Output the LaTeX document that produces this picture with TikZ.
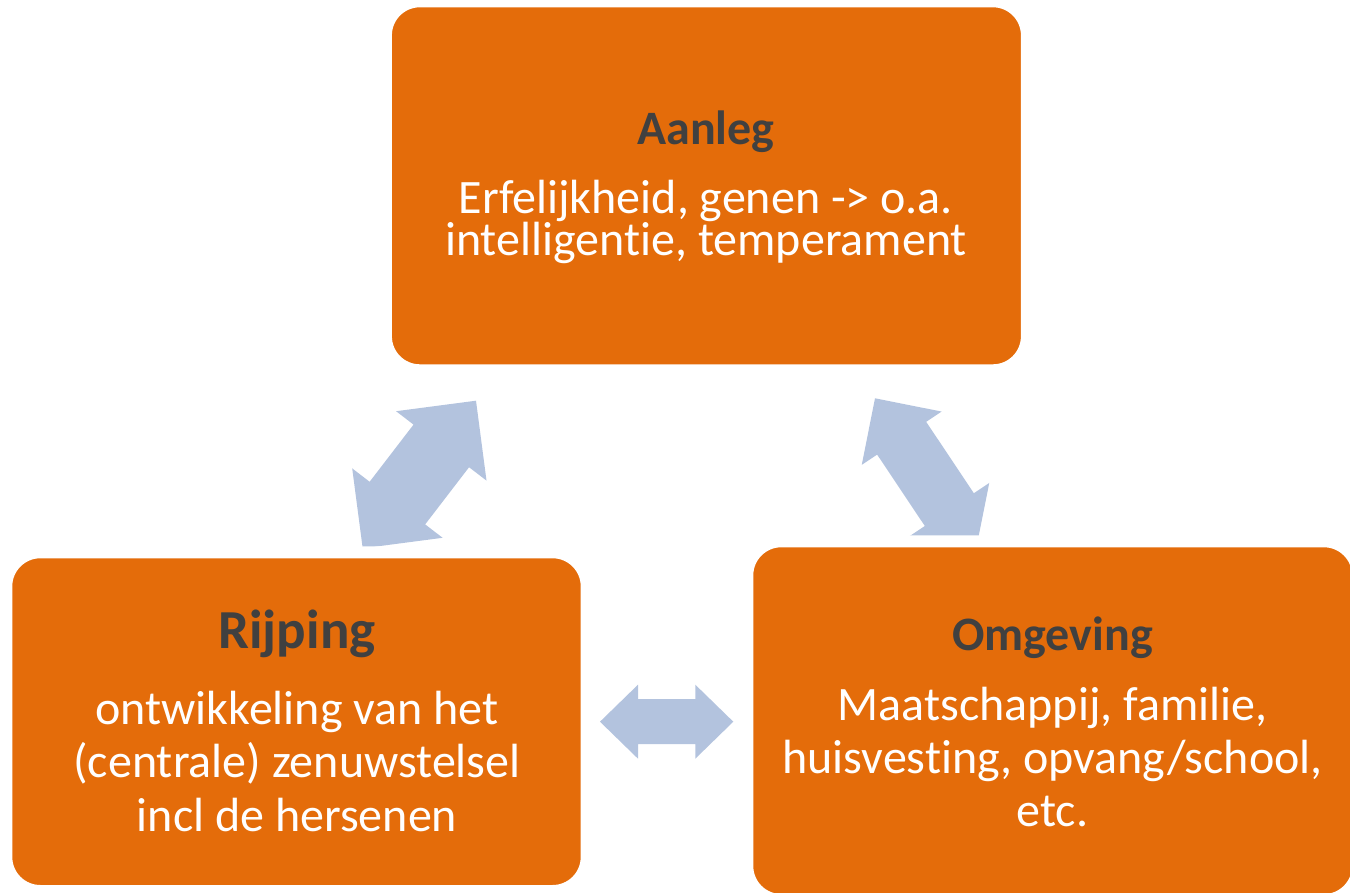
\documentclass[tikz,border=0pt]{standalone}
\usepackage{fontspec}
\setmainfont{Carlito}[Ligatures={NoCommon}]
\usetikzlibrary{calc}
\definecolor{boxorange}{HTML}{E46C0A}
\definecolor{arrowblue}{HTML}{B3C3DE}
\definecolor{titlegray}{HTML}{404040}
\tikzset{
  boxshape/.style={draw=white, line width=12pt, fill=boxorange, rounded corners=34pt, inner sep=0pt},
  titletext/.style={anchor=base, inner sep=0pt, text=titlegray, font=\fontsize{48}{58}\selectfont\bfseries},
  bigtitletext/.style={anchor=base, inner sep=0pt, text=titlegray, font=\fontsize{55}{66}\selectfont\bfseries},
  bodytext/.style={anchor=base, inner sep=0pt, text=white, font=\fontsize{48}{58}\selectfont},
  tightbody/.style={anchor=base, inner sep=0pt, text=white, align=center, font=\fontsize{48}{42}\selectfont},
  blockarrow/.style={fill=arrowblue, draw=none}
}
% #1,#2 tips; #3 wing dist; #4 wing angle; #5 notch dist; #6 notch angle
\newcommand{\dblarrow}[6]{%
  \path[blockarrow] (#1)
    -- ($(#1)!#3!#4:(#2)$) -- ($(#1)!#5!#6:(#2)$)
    -- ($(#2)!#5!-#6:(#1)$) -- ($(#2)!#3!-#4:(#1)$)
    -- (#2)
    -- ($(#2)!#3!#4:(#1)$) -- ($(#2)!#5!#6:(#1)$)
    -- ($(#1)!#5!-#6:(#2)$) -- ($(#1)!#3!-#4:(#2)$)
    -- cycle;}
\begin{document}
\begin{tikzpicture}[x=1pt, y=-1pt]
\useasboundingbox (0,0) rectangle (1350,893);
% arrow tips
\coordinate (laT) at (476,400.7);
\coordinate (laB) at (362.7,548.3);
\coordinate (raT) at (875,398.3);
\coordinate (raB) at (976,549.5);
\coordinate (haL) at (600,721.7);
\coordinate (haR) at (733.3,721.7);
\dblarrow{laT}{laB}{80.61pt}{45}{66.89pt}{31.55}
\dblarrow{raT}{raB}{67.88pt}{45}{56.34pt}{31.57}
\dblarrow{haL}{haR}{53.04pt}{44.24}{44.16pt}{30.63}
% boxes
\node[boxshape, minimum width=641pt, minimum height=369pt] (aanleg) at (706.4,185.8) {};
\node[boxshape, minimum width=580.4pt, minimum height=338.7pt] (rijping) at (296.5,721.65) {};
\node[boxshape, minimum width=610.7pt, minimum height=358.7pt] (omgeving) at (1052.65,720.65) {};
% texts
\node[titletext] (aanlegT) at (706,145) {Aanleg};
\node[tightbody] (aanlegB) at (706,256) {Erfelijkheid, genen -> o.a.\\intelligentie, temperament};
\node[bigtitletext] (rijpingT) at (297,648) {Rijping};
\node[bodytext] (rijping1) at (297,724) {ontwikkeling van het};
\node[bodytext] (rijping2) at (297,777) {(centrale) zenuwstelsel};
\node[bodytext] (rijping3) at (297,831) {incl de hersenen};
\node[titletext] (omgevingT) at (1052.5,650) {Omgeving};
\node[bodytext] (omgeving1) at (1052.5,720) {Maatschappij, familie,};
\node[bodytext] (omgeving2) at (1052.5,773) {huisvesting, opvang/school,};
\node[bodytext] (omgeving3) at (1052.5,826) {etc.};
\end{tikzpicture}
\end{document}
